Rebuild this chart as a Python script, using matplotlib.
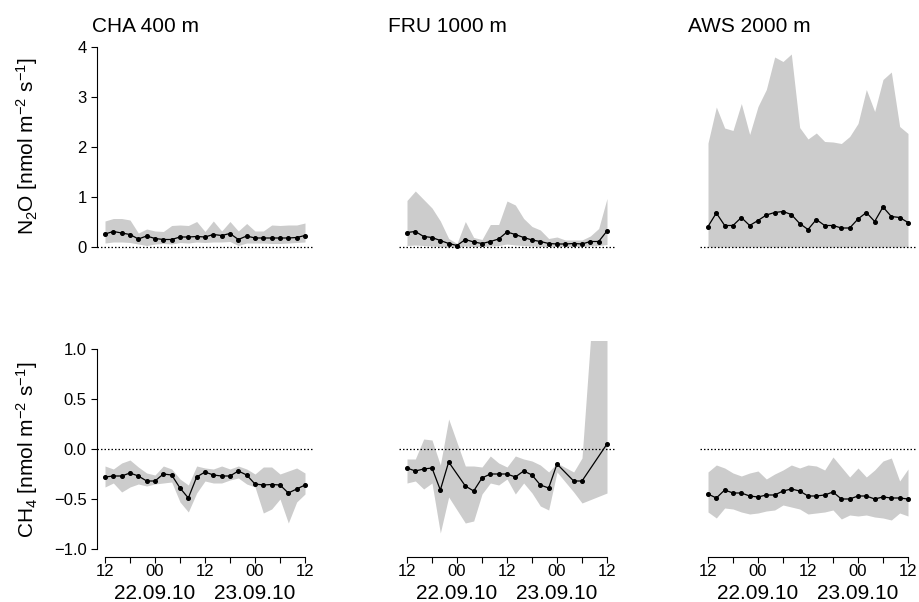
import matplotlib
matplotlib.use("Agg")
import matplotlib.pyplot as plt

plt.rcParams['font.family'] = ['Liberation Sans', 'DejaVu Sans']
plt.rcParams['mathtext.fontset'] = 'custom'
plt.rcParams['mathtext.rm'] = 'Liberation Sans'
plt.rcParams['mathtext.it'] = 'Liberation Sans:italic'
plt.rcParams['mathtext.bf'] = 'Liberation Sans:bold'

# hours since 22.09.10 12:00, one value every 2 h
hours = [0, 2, 4, 6, 8, 10, 12, 14, 16, 18, 20, 22, 24,
         26, 28, 30, 32, 34, 36, 38, 40, 42, 44, 46, 48]
fru_ch4_hours = [0, 2, 4, 6, 8, 10, 14, 16, 18, 20, 22, 24,
                 26, 28, 30, 32, 34, 36, 40, 42, 48]

sites = ["CHA 400 m", "FRU 1000 m", "AWS 2000 m"]
tick_hours = [0, 6, 12, 18, 24, 30, 36, 42, 48]
tick_labels = ["12", "", "00", "", "12", "", "00", "", "12"]
date_hours = [12, 36]
date_labels = ["22.09.10", "23.09.10"]

# N2O
cha_n2o_mean = [0.26, 0.31, 0.28, 0.25, 0.16, 0.22, 0.17, 0.15, 0.15, 0.20, 0.20, 0.21, 0.20,
                0.25, 0.23, 0.27, 0.15, 0.22, 0.18, 0.18, 0.18, 0.18, 0.18, 0.19, 0.23]
cha_n2o_upper = [0.52, 0.57, 0.57, 0.54, 0.28, 0.36, 0.32, 0.31, 0.43, 0.44, 0.43, 0.51, 0.31,
                 0.52, 0.32, 0.51, 0.32, 0.47, 0.32, 0.32, 0.44, 0.43, 0.44, 0.44, 0.48]
cha_n2o_lower = [0.08, 0.10, 0.10, 0.09, 0.06, 0.03, 0.06, 0.07, 0.06, 0.09, 0.08, 0.10, 0.09,
                 0.10, 0.10, 0.11, 0.03, 0.08, 0.08, 0.08, 0.07, 0.07, 0.08, 0.09, 0.10]

fru_n2o_mean = [0.29, 0.31, 0.21, 0.19, 0.13, 0.07, 0.03, 0.15, 0.10, 0.07, 0.11, 0.16, 0.30,
                0.25, 0.19, 0.14, 0.11, 0.07, 0.06, 0.06, 0.07, 0.06, 0.11, 0.11, 0.32]
fru_n2o_upper = [0.93, 1.12, 0.95, 0.78, 0.52, 0.17, 0.07, 0.51, 0.19, 0.15, 0.45, 0.45, 0.92,
                 0.84, 0.57, 0.41, 0.34, 0.17, 0.20, 0.14, 0.14, 0.14, 0.22, 0.37, 0.97]
fru_n2o_lower = [0.03, 0.04, 0.03, 0.02, 0.01, 0.00, 0.00, 0.02, 0.01, 0.01, 0.02, 0.03, 0.06,
                 0.04, 0.03, 0.02, 0.01, 0.01, 0.01, 0.01, 0.01, 0.01, 0.02, 0.03, 0.05]

aws_n2o_mean = [0.41, 0.68, 0.43, 0.43, 0.59, 0.43, 0.53, 0.64, 0.69, 0.71, 0.65, 0.47, 0.35,
                0.55, 0.43, 0.43, 0.38, 0.38, 0.56, 0.69, 0.51, 0.80, 0.61, 0.59, 0.49]
aws_n2o_upper = [2.08, 2.80, 2.38, 2.33, 2.87, 2.25, 2.81, 3.15, 3.80, 3.71, 3.86, 2.39, 2.16,
                 2.28, 2.11, 2.10, 2.07, 2.21, 2.47, 3.15, 2.71, 3.35, 3.50, 2.41, 2.27]
aws_n2o_lower = [0.00, 0.00, 0.00, 0.00, 0.00, 0.00, 0.00, 0.00, 0.00, 0.00, 0.00, 0.00, 0.00,
                 0.00, 0.00, 0.00, 0.00, 0.00, 0.00, 0.00, 0.00, 0.00, 0.00, 0.00, 0.00]

# CH4
cha_ch4_mean = [-0.28, -0.27, -0.27, -0.24, -0.27, -0.32, -0.32, -0.25, -0.26, -0.39, -0.49, -0.28, -0.23,
                -0.26, -0.27, -0.27, -0.22, -0.26, -0.35, -0.36, -0.355, -0.36, -0.44, -0.40, -0.36]
cha_ch4_upper = [-0.17, -0.20, -0.14, -0.11, -0.18, -0.24, -0.26, -0.17, -0.20, -0.30, -0.36, -0.17, -0.19,
                 -0.20, -0.17, -0.20, -0.17, -0.20, -0.25, -0.18, -0.18, -0.25, -0.22, -0.19, -0.24]
cha_ch4_lower = [-0.38, -0.34, -0.43, -0.38, -0.35, -0.37, -0.35, -0.34, -0.33, -0.53, -0.63, -0.44, -0.32,
                 -0.34, -0.34, -0.31, -0.29, -0.35, -0.38, -0.64, -0.60, -0.50, -0.74, -0.53, -0.45]

fru_ch4_mean = [-0.19, -0.22, -0.20, -0.19, -0.41, -0.13, -0.37, -0.42, -0.29, -0.25, -0.25,
                -0.25, -0.28, -0.22, -0.26, -0.36, -0.39, -0.15, -0.32, -0.32, 0.05]
fru_ch4_upper = [-0.10, -0.10, 0.10, 0.09, -0.16, 0.30, -0.17, -0.17, -0.18, -0.07, -0.14,
                 -0.18, -0.07, -0.10, -0.12, -0.16, -0.23, -0.14, -0.23, -0.09, 3.40]
fru_ch4_lower = [-0.34, -0.32, -0.40, -0.34, -0.84, -0.48, -0.74, -0.72, -0.45, -0.34, -0.36,
                 -0.30, -0.45, -0.34, -0.44, -0.57, -0.61, -0.23, -0.43, -0.54, -0.44]

aws_ch4_mean = [-0.45, -0.49, -0.41, -0.44, -0.44, -0.47, -0.48, -0.46, -0.46, -0.42, -0.40, -0.42, -0.47,
                -0.47, -0.46, -0.43, -0.50, -0.50, -0.47, -0.47, -0.50, -0.48, -0.49, -0.49, -0.50]
aws_ch4_upper = [-0.23, -0.16, -0.19, -0.24, -0.27, -0.24, -0.22, -0.30, -0.25, -0.21, -0.16, -0.19, -0.16,
                 -0.17, -0.21, -0.08, -0.18, -0.28, -0.19, -0.28, -0.21, -0.12, -0.09, -0.32, -0.20]
aws_ch4_lower = [-0.63, -0.69, -0.59, -0.60, -0.63, -0.65, -0.64, -0.62, -0.61, -0.56, -0.58, -0.60, -0.65,
                 -0.64, -0.63, -0.61, -0.70, -0.66, -0.67, -0.66, -0.68, -0.69, -0.71, -0.64, -0.67]

n2o_rows = [(hours, cha_n2o_mean, cha_n2o_lower, cha_n2o_upper),
            (hours, fru_n2o_mean, fru_n2o_lower, fru_n2o_upper),
            (hours, aws_n2o_mean, aws_n2o_lower, aws_n2o_upper)]
ch4_rows = [(hours, cha_ch4_mean, cha_ch4_lower, cha_ch4_upper),
            (fru_ch4_hours, fru_ch4_mean, fru_ch4_lower, fru_ch4_upper),
            (hours, aws_ch4_mean, aws_ch4_lower, aws_ch4_upper)]

W, H = 919, 602
fig = plt.figure(figsize=(W / 100, H / 100), dpi=100)

lefts = [97, 399, 700]
panel_w = 216
panel_h = 216
bottoms = [255, 557]  # pixel row of the lower plot edge (from top)


def draw_panel(ax, row, ylim, yticks):
    x, mean, lo, hi = row
    ax.fill_between(x, lo, hi, color="#cccccc", lw=0, zorder=1)
    ax.axhline(0, color="black", lw=0.9, ls=(0, (1.2, 1.6)), zorder=2)
    ax.plot(x, mean, color="black", lw=0.9, marker="o", ms=2.6, zorder=3)
    ax.set_xlim(-1.92, 49.92)
    ax.set_ylim(*ylim)
    ax.set_yticks(yticks)
    for s in ["top", "right"]:
        ax.spines[s].set_visible(False)
    ax.spines["left"].set_bounds(yticks[0], yticks[-1])
    ax.spines["bottom"].set_bounds(0, 48)
    ax.tick_params(labelsize=12, length=4, width=0.8, color="black")
    ax.tick_params(axis="y", pad=3.5)
    ax.tick_params(axis="x", pad=1)


axes = []
for r, (rows, ylim, yticks) in enumerate([(n2o_rows, (-0.16, 4.16), [0, 1, 2, 3, 4]),
                                          (ch4_rows, (-1.08, 1.08), [-1.0, -0.5, 0.0, 0.5, 1.0])]):
    for c in range(3):
        ax = fig.add_axes([lefts[c] / W, (H - bottoms[r]) / H, panel_w / W, panel_h / H])
        draw_panel(ax, rows[c], ylim, yticks)
        if r == 1:
            ax.set_yticklabels(["\u22121.0", "\u22120.5", "0.0", "0.5", "1.0"])
        if c > 0:
            ax.spines["left"].set_visible(False)
            ax.tick_params(axis="y", left=False, labelleft=False)
        if r == 0:
            ax.spines["bottom"].set_visible(False)
            ax.tick_params(axis="x", bottom=False, labelbottom=False)
        else:
            ax.set_xticks(tick_hours)
            ax.set_xticklabels(tick_labels)
            for dh, dl in zip(date_hours, date_labels):
                ax.text(dh, -0.171, dl, transform=ax.get_xaxis_transform(),
                        ha="center", va="center", fontsize=15)
        axes.append(ax)

# panel titles
title_x = [92, 388, 688]
for tx, name in zip(title_x, sites):
    fig.text(tx / W, (H - 32) / H, name, fontsize=15, ha="left", va="baseline")

# y labels
fig.text(27 / W, (H - 146) / H, "N$_2$O [nmol m$^{-2}$ s$^{-1}$]", rotation=90,
         ha="center", va="center", fontsize=15)
fig.text(27 / W, (H - 450) / H, "CH$_4$ [nmol m$^{-2}$ s$^{-1}$]", rotation=90,
         ha="center", va="center", fontsize=15)

fig.savefig("out.png", dpi=100)
